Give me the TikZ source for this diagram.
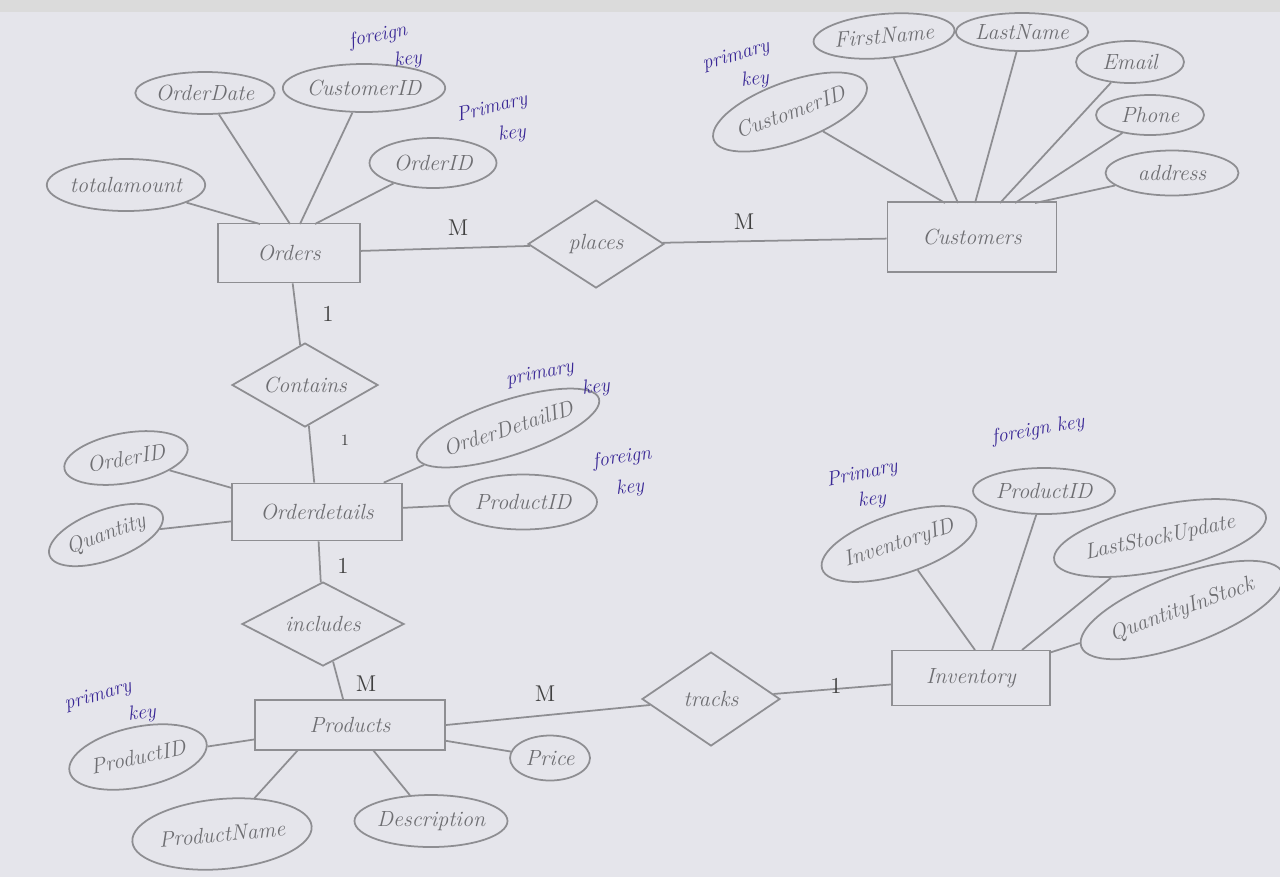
\documentclass[tikz,border=0pt]{standalone}
\usetikzlibrary{shapes.geometric}
\definecolor{paper}{HTML}{E5E5EB}
\definecolor{pencil}{HTML}{8E8E92}
\definecolor{pentext}{HTML}{6E6E72}
\definecolor{ink}{HTML}{3A2896}
\newcommand\handfont{\fontsize{12.5}{15}\selectfont\itshape}
\newcommand\inkfont{\fontsize{11.5}{13}\selectfont\itshape}
\tikzset{
  ell/.style={ellipse, draw=pencil, line width=1pt, inner sep=0pt, text=pentext, font=\handfont},
  ent/.style={rectangle, draw=pencil, line width=1pt, inner sep=0pt, text=pentext, font=\handfont},
  rel/.style={diamond, draw=pencil, line width=1pt, inner sep=0pt, text=pentext, font=\handfont},
  conn/.style={draw=pencil, line width=1pt},
  note/.style={text=ink, font=\inkfont, inner sep=0pt},
  card/.style={text=black!75, font=\fontsize{13}{13}\selectfont, inner sep=0pt}
}
\begin{document}
\begin{tikzpicture}[x=0.02cm,y=-0.02cm]
\fill[paper] (0,0) rectangle (1280,877);
\fill[black!14] (0,0) rectangle (1280,12);
\useasboundingbox (0,0) rectangle (1280,877);

% ---------- entities ----------
\node[ent, minimum width=2.84cm, minimum height=1.18cm] (orders) at (289,253) {Orders};
\node[ent, minimum width=3.38cm, minimum height=1.4cm] (customers) at (972,237) {Customers};
\node[ent, minimum width=3.4cm, minimum height=1.14cm] (odet) at (317,512) {Orderdetails};
\node[ent, minimum width=3.8cm, minimum height=1.0cm] (products) at (350,725) {Products};
\node[ent, minimum width=3.16cm, minimum height=1.1cm] (inventory) at (971,678) {Inventory};

% ---------- relationships ----------
\node[rel, minimum width=2.72cm, minimum height=1.76cm, aspect=1.55] (places) at (596,244) {places};
\node[rel, minimum width=2.92cm, minimum height=1.68cm, aspect=1.74] (contains) at (305,385) {Contains};
\node[rel, minimum width=3.24cm, minimum height=1.68cm, aspect=1.93] (includes) at (323,624) {includes};
\node[rel, minimum width=2.76cm, minimum height=1.88cm, aspect=1.47] (tracks) at (711,699) {tracks};

% ---------- Orders attributes ----------
\node[ell, minimum width=2.44cm, minimum height=0.84cm] (odate) at (205,93) {OrderDate};
\node[ell, minimum width=3.0cm, minimum height=0.96cm] (ocust) at (364,88) {CustomerID};
\node[ell, minimum width=2.54cm, minimum height=1.0cm] (oid) at (433,163) {OrderID};
\node[ell, minimum width=2.96cm, minimum height=1.04cm] (ototal) at (126,185) {totalamount};

% ---------- Customers attributes ----------
\node[ell, minimum width=2.9cm, minimum height=1.2cm, rotate=20] (ccid) at (790,112) {CustomerID};
\node[ell, minimum width=2.4cm, minimum height=0.88cm, rotate=5] (cfirst) at (884,36) {FirstName};
\node[ell, minimum width=2.36cm, minimum height=0.76cm] (clast) at (1022,32) {LastName};
\node[ell, minimum width=2.16cm, minimum height=0.84cm] (cemail) at (1130,62) {Email};
\node[ell, minimum width=2.16cm, minimum height=0.8cm] (cphone) at (1150,115) {Phone};
\node[ell, minimum width=2.66cm, minimum height=0.9cm] (caddr) at (1172,173) {address};

% ---------- Orderdetails attributes ----------
\node[ell, minimum width=2.5cm, minimum height=1.0cm, rotate=10] (doid) at (126,458) {OrderID};
\node[ell, minimum width=2.4cm, minimum height=1.0cm, rotate=20] (dqty) at (106,535) {Quantity};
\node[ell, minimum width=3.3cm, minimum height=1.1cm, rotate=18] (ddid) at (508,428) {OrderDetailID};
\node[ell, minimum width=2.96cm, minimum height=1.1cm] (dpid) at (523,502) {ProductID};

% ---------- Products attributes ----------
\node[ell, minimum width=2.8cm, minimum height=1.2cm, rotate=12] (ppid) at (138,757) {ProductID};
\node[ell, minimum width=3.6cm, minimum height=1.4cm, rotate=5] (pname) at (222,834) {ProductName};
\node[ell, minimum width=2.76cm, minimum height=1.04cm] (pdesc) at (431,821) {Description};
\node[ell, minimum width=1.6cm, minimum height=0.9cm] (pprice) at (550,758) {Price};

% ---------- Inventory attributes ----------
\node[ell, minimum width=2.7cm, minimum height=1.2cm, rotate=18] (iid) at (899,544) {InventoryID};
\node[ell, minimum width=2.84cm, minimum height=0.92cm] (ipid) at (1044,491) {ProductID};
\node[ell, minimum width=3.6cm, minimum height=1.3cm, rotate=12] (ilast) at (1160,538) {LastStockUpdate};
\node[ell, minimum width=3.7cm, minimum height=1.4cm, rotate=20] (iqty) at (1182,610) {QuantityInStock};

% ---------- connector anchors on entity edges ----------
\coordinate (o1) at (260,224);
\coordinate (o2) at (290,224);
\coordinate (o3) at (300,224);
\coordinate (o4) at (315,224);
\coordinate (c1) at (945,203);
\coordinate (c2) at (958,203);
\coordinate (c3) at (975,203);
\coordinate (c4) at (1000,203);
\coordinate (c5) at (1015,203);
\coordinate (c6) at (1035,203);
\coordinate (i1) at (975,650);
\coordinate (i2) at (992,650);
\coordinate (i3) at (1022,650);
\coordinate (p1) at (298,750);
\coordinate (p2) at (373,750);

% ---------- relationship connectors ----------
\draw[conn] (orders) -- (places);
\draw[conn] (places) -- (customers);
\draw[conn] (orders) -- (contains);
\draw[conn] (contains) -- (odet);
\draw[conn] (odet) -- (includes);
\draw[conn] (includes) -- (products);
\draw[conn] (products.east) -- (tracks);
\draw[conn] (tracks) -- (inventory);

% ---------- attribute connectors ----------
\draw[conn] (ototal) -- (o1);
\draw[conn] (odate) -- (o2);
\draw[conn] (ocust) -- (o3);
\draw[conn] (oid) -- (o4);
\draw[conn] (ccid) -- (c1);
\draw[conn] (cfirst) -- (c2);
\draw[conn] (clast) -- (c3);
\draw[conn] (cemail) -- (c4);
\draw[conn] (cphone) -- (c5);
\draw[conn] (caddr) -- (c6);
\draw[conn] (doid) -- (odet);
\draw[conn] (dqty) -- (odet);
\draw[conn] (ddid) -- (odet);
\draw[conn] (dpid) -- (odet);
\draw[conn] (ppid) -- (products);
\draw[conn] (pname) -- (p1);
\draw[conn] (pdesc) -- (p2);
\draw[conn] (pprice) -- (products);
\draw[conn] (iid) -- (i1);
\draw[conn] (ipid) -- (i2);
\draw[conn] (ilast) -- (i3);
\draw[conn] (iqty) -- (inventory);

% ---------- cardinalities ----------
\node[card] (k1) at (458,228) {M};
\node[card] (k2) at (744,222) {M};
\node[card] (k3) at (328,314) {1};
\node[card, font=\fontsize{9}{9}\selectfont] (k4) at (345,440) {1};
\node[card] (k5) at (343,566) {1};
\node[card] (k6) at (366,684) {M};
\node[card] (k7) at (545,694) {M};
\node[card] (k8) at (836,686) {1};

% ---------- key annotations ----------
\node[note, rotate=12] (n1a) at (378,36) {foreign};
\node[note, rotate=8]  (n1b) at (408,60) {key};
\node[note, rotate=14] (n2a) at (492,108) {Primary};
\node[note, rotate=8]  (n2b) at (512,134) {key};
\node[note, rotate=16] (n3a) at (736,56) {primary};
\node[note, rotate=8]  (n3b) at (755,80) {key};
\node[note, rotate=12] (n4a) at (540,374) {primary};
\node[note, rotate=8]  (n4b) at (596,388) {key};
\node[note, rotate=8]  (n5a) at (622,458) {foreign};
\node[note, rotate=6]  (n5b) at (630,488) {key};
\node[note, rotate=10] (n6) at (1038,430) {foreign key};
\node[note, rotate=12] (n7a) at (862,474) {Primary};
\node[note, rotate=6]  (n7b) at (872,500) {key};
\node[note, rotate=16] (n8a) at (98,696) {primary};
\node[note, rotate=8]  (n8b) at (142,714) {key};
\end{tikzpicture}
\end{document}
